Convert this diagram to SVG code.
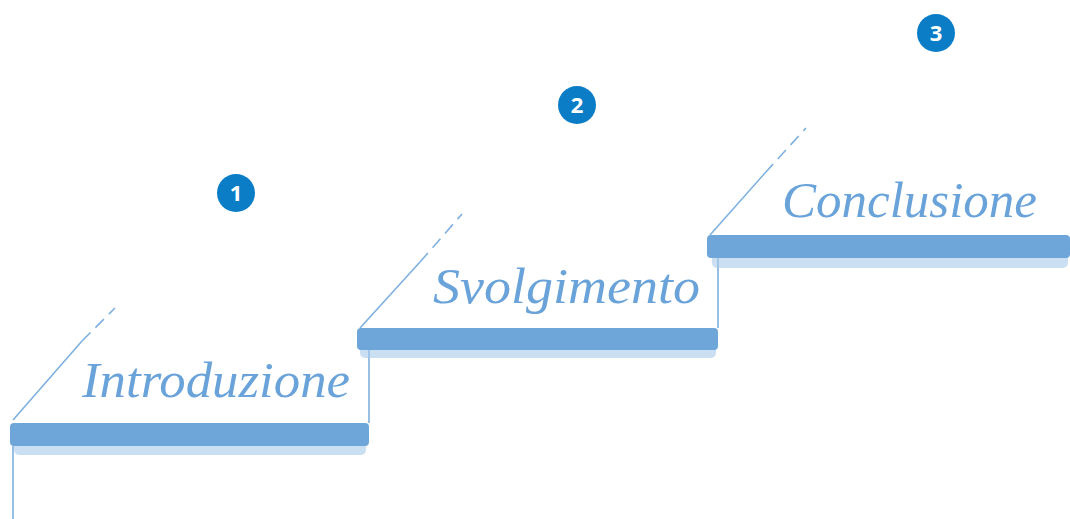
<svg xmlns="http://www.w3.org/2000/svg" width="1070" height="519" viewBox="0 0 1070 519">
<defs>
<style>
.bar{fill:#6fa6da}
.shadow{fill:#a9c9ea;opacity:0.6}
.ln{stroke:#7eb0e0;stroke-width:1.6;fill:none}
.dash{stroke:#7eb0e0;stroke-width:1.6;fill:none;stroke-dasharray:12 7}
.lbl{font-family:"Liberation Serif",serif;font-style:italic;fill:#6aa3d9;font-size:50px}
.badge{fill:#0a7dc6}
.num{font-family:"Open Sans","Liberation Sans",sans-serif;font-weight:bold;fill:#fff;font-size:22px;text-anchor:middle}
</style>
</defs>
<rect width="1070" height="519" fill="#fff"/>
<g id="connectors">
<line class="ln" x1="13" y1="446" x2="13" y2="519"/>
<line class="ln" x1="369" y1="350" x2="369" y2="423"/>
<line class="ln" x1="718" y1="258" x2="718" y2="328"/>
<line class="ln" x1="13" y1="420" x2="82" y2="341"/>
<line class="dash" x1="82" y1="341" x2="115" y2="308"/>
<line class="ln" x1="360" y1="328" x2="420" y2="262"/>
<line class="dash" x1="420" y1="262" x2="462" y2="214"/>
<line class="ln" x1="710" y1="235" x2="765" y2="173"/>
<line class="dash" x1="765" y1="173" x2="806" y2="128"/>
</g>
<g id="step1">
<rect class="shadow" x="14" y="440" width="352" height="15" rx="5"/>
<rect class="bar" x="10" y="423" width="359" height="23" rx="4"/>
<text class="lbl" x="82" y="397" textLength="268" lengthAdjust="spacingAndGlyphs">Introduzione</text>
</g>
<g id="step2">
<rect class="shadow" x="360" y="344" width="356" height="14" rx="5"/>
<rect class="bar" x="357" y="328" width="361" height="22" rx="4"/>
<text class="lbl" x="433" y="303" textLength="267" lengthAdjust="spacingAndGlyphs">Svolgimento</text>
</g>
<g id="step3">
<rect class="shadow" x="712" y="252" width="356" height="16" rx="5"/>
<rect class="bar" x="707" y="235" width="363" height="23" rx="4"/>
<text class="lbl" x="782" y="217" textLength="255" lengthAdjust="spacingAndGlyphs">Conclusione</text>
</g>
<g id="badge1">
<circle class="badge" cx="236" cy="193" r="19"/>
<text class="num" x="236" y="201">1</text>
</g>
<g id="badge2">
<circle class="badge" cx="577" cy="105" r="19"/>
<text class="num" x="577" y="113">2</text>
</g>
<g id="badge3">
<circle class="badge" cx="936" cy="33" r="19"/>
<text class="num" x="936" y="41">3</text>
</g>
</svg>
